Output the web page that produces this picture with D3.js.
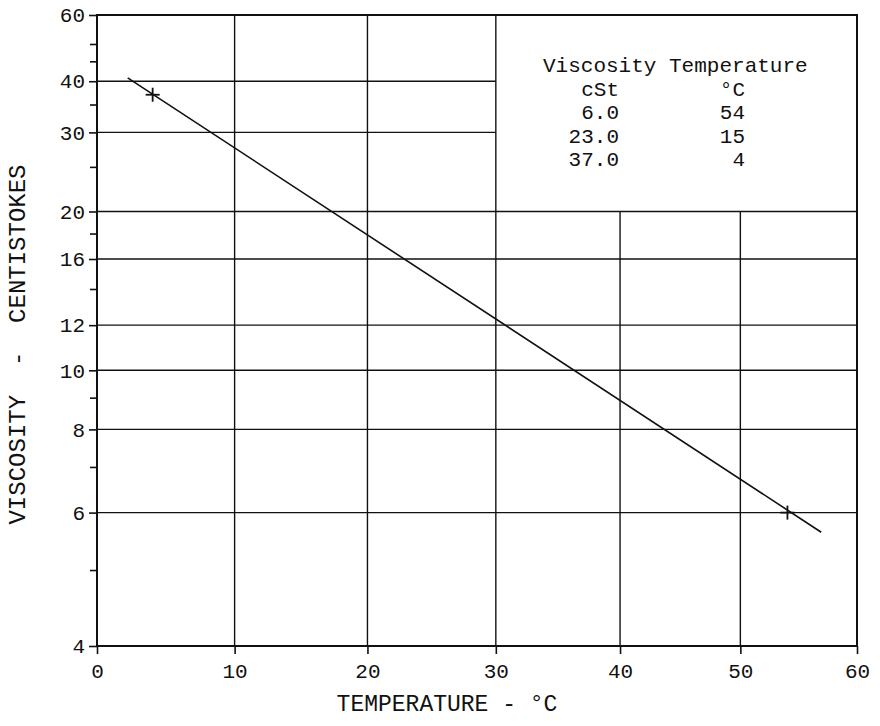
<!DOCTYPE html>
<html>
<head>
<meta charset="utf-8">
<script src="https://cdn.jsdelivr.net/npm/d3@7"></script>
<style>
  body { margin: 0; background: #fff; }
  text { font-family: "Liberation Mono", "DejaVu Sans Mono", monospace; fill: #111; }
</style>
</head>
<body>
<div id="chart"></div>
<script>
// viscosity-temperature chart (ASTM style): x is log of absolute temp, y is log(log(cSt + 0.7))
const tempTicks = [0, 10, 20, 30, 40, 50, 60];
const viscLabelled = [60, 40, 30, 20, 16, 12, 10, 8, 6, 4];
const viscMinor = [50, 45, 35, 25, 18, 14, 9, 7, 5];

const tableHeader = ["Viscosity", "Temperature"];
const tableUnits = ["cSt", "°C"];
const tableVisc = [6.0, 23.0, 37.0];
const tableTemp = [54, 15, 4];

// points marked with a cross on the plot
const markedTemp = [4, 54];
const markedVisc = [37.0, 6.0];

// ends of the drawn straight line
const fitTemp = [2.2, 56.9];
const fitVisc = [40.8, 5.63];

const width = 880, height = 726;
const margin = { top: 15, right: 23, bottom: 80, left: 97 };

const svg = d3.select("#chart").append("svg")
    .attr("width", width)
    .attr("height", height);

const K = 273.15;
const xK = d3.scaleLog()
    .domain([tempTicks[0] + K, tempTicks[tempTicks.length - 1] + K])
    .range([margin.left, width - margin.right]);
const x = t => xK(t + K);

const llog = v => Math.log10(Math.log10(v + 0.7));
const yLin = d3.scaleLinear()
    .domain([llog(d3.min(viscLabelled)), llog(d3.max(viscLabelled))])
    .range([height - margin.bottom, margin.top]);
// small wrapper so d3.axisLeft can use the log-log scale
function y(v) { return yLin(llog(v)); }
y.domain = () => [d3.min(viscLabelled), d3.max(viscLabelled)];
y.range = () => yLin.range();
y.copy = () => y;

const tMin = tempTicks[0], tMax = tempTicks[tempTicks.length - 1];
const vMin = d3.min(viscLabelled), vMax = d3.max(viscLabelled);

// the table sits in the upper right corner, grid is left out there
const boxT = 30, boxV = 20;

const grid = svg.append("g")
    .attr("stroke", "#111")
    .attr("stroke-width", 1.4);

grid.selectAll(".vgrid")
    .data(tempTicks.filter(t => t > tMin && t < tMax))
    .join("line")
    .attr("x1", d => x(d)).attr("x2", d => x(d))
    .attr("y1", d => d > boxT ? y(boxV) : y(vMax))
    .attr("y2", y(vMin));

grid.selectAll(".hgrid")
    .data(viscLabelled.filter(v => v > vMin && v < vMax))
    .join("line")
    .attr("y1", d => y(d)).attr("y2", d => y(d))
    .attr("x1", x(tMin))
    .attr("x2", d => d > boxV ? x(boxT) : x(tMax));

// frame
svg.append("rect")
    .attr("x", x(tMin)).attr("y", y(vMax))
    .attr("width", x(tMax) - x(tMin))
    .attr("height", y(vMin) - y(vMax))
    .attr("fill", "none")
    .attr("stroke", "#111")
    .attr("stroke-width", 2);

// axes
const yAxis = svg.append("g")
    .attr("transform", `translate(${margin.left},0)`)
    .call(d3.axisLeft(y).tickValues(viscLabelled).tickSize(8).tickPadding(4).tickFormat(d3.format("d")));
const yMinorAxis = svg.append("g")
    .attr("transform", `translate(${margin.left},0)`)
    .call(d3.axisLeft(y).tickValues(viscMinor).tickSize(7).tickFormat(""));
const xAxis = svg.append("g")
    .attr("transform", `translate(0,${height - margin.bottom})`)
    .call(d3.axisBottom(xK).tickValues(tempTicks.map(t => t + K)).tickSize(8).tickPadding(9)
        .tickFormat(d => Math.round(d - K)));

[yAxis, yMinorAxis, xAxis].forEach(g => {
    g.select(".domain").remove();
    g.selectAll(".tick line").attr("stroke", "#111").attr("stroke-width", 1.6);
    g.selectAll(".tick text").style("font-size", "21px").attr("fill", "#111");
});

// fitted line
svg.append("path")
    .datum(d3.zip(fitTemp, fitVisc))
    .attr("fill", "none")
    .attr("stroke", "#111")
    .attr("stroke-width", 1.6)
    .attr("d", d3.line().x(d => x(d[0])).y(d => y(d[1])));

// crosses
const marks = svg.selectAll(".mark")
    .data(d3.zip(markedTemp, markedVisc))
    .join("g")
    .attr("transform", d => `translate(${x(d[0])},${y(d[1])})`)
    .attr("stroke", "#111")
    .attr("stroke-width", 1.8);
marks.append("line").attr("x1", -7).attr("x2", 7);
marks.append("line").attr("y1", -7).attr("y2", 7);

// table
const tbl = svg.append("g").style("font-size", "21px");
const col1 = 619, col2 = 745, rowY = 72, rowH = 23.5;
tbl.append("text")
    .attr("x", 543).attr("y", rowY)
    .attr("xml:space", "preserve")
    .text(tableHeader.join(" "));
tbl.append("text").attr("x", col1).attr("y", rowY + rowH).attr("text-anchor", "end").text(tableUnits[0]);
tbl.append("text").attr("x", col2).attr("y", rowY + rowH).attr("text-anchor", "end").text(tableUnits[1]);
tbl.selectAll(".vrow")
    .data(tableVisc)
    .join("text")
    .attr("x", col1)
    .attr("y", (d, i) => rowY + rowH * (i + 2))
    .attr("text-anchor", "end")
    .text(d => d.toFixed(1));
tbl.selectAll(".trow")
    .data(tableTemp)
    .join("text")
    .attr("x", col2)
    .attr("y", (d, i) => rowY + rowH * (i + 2))
    .attr("text-anchor", "end")
    .text(d => d);

// axis titles
svg.append("text")
    .attr("x", 447).attr("y", 711)
    .attr("text-anchor", "middle")
    .style("font-size", "23px")
    .attr("xml:space", "preserve")
    .text("TEMPERATURE - °C");

svg.append("text")
    .attr("transform", `translate(25,${(y(vMax) + y(vMin)) / 2 + 14}) rotate(-90)`)
    .attr("text-anchor", "middle")
    .style("font-size", "24px")
    .attr("xml:space", "preserve")
    .text("VISCOSITY  -  CENTISTOKES");
</script>
</body>
</html>
